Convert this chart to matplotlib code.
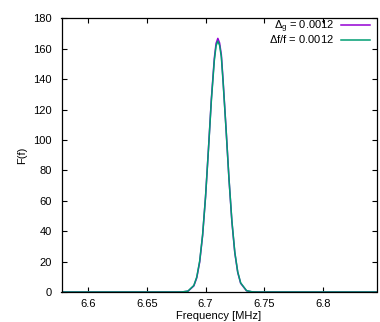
import matplotlib
matplotlib.use("Agg")
import matplotlib.pyplot as plt

plt.rcParams['font.family'] = ['Liberation Sans', 'DejaVu Sans']
plt.rcParams['mathtext.fontset'] = 'custom'
plt.rcParams['mathtext.rm'] = 'Liberation Sans'
plt.rcParams['mathtext.it'] = 'Liberation Sans'

# frequency samples (MHz)
freq = [6.577, 6.670, 6.675, 6.680, 6.685, 6.690, 6.6925, 6.695, 6.6975, 6.700,
        6.7025, 6.705, 6.7075, 6.709, 6.7105, 6.712, 6.7135, 6.715, 6.7175, 6.720,
        6.7225, 6.725, 6.7275, 6.730, 6.735, 6.740, 6.745, 6.750, 6.846]

# Delta_g = 0.0012
fg = [0.0, 0.0, 0.0, 0.04, 0.5, 4.0, 9.3, 19.7, 37.1, 62.5,
      94.2, 127.3, 153.7, 163.5, 166.8, 163.8, 156.0, 139.1, 107.7, 74.6,
      46.3, 25.7, 12.8, 5.7, 0.8, 0.07, 0.0, 0.0, 0.0]

# Delta f / f = 0.0012
ff = [0.0, 0.0, 0.0, 0.05, 0.6, 4.3, 9.8, 20.3, 37.6, 62.6,
      93.8, 126.3, 152.2, 161.9, 165.0, 162.2, 154.6, 138.0, 107.3, 74.8,
      46.8, 26.2, 13.2, 6.0, 0.9, 0.08, 0.0, 0.0, 0.0]

xticks = [6.6, 6.65, 6.7, 6.75, 6.8]
xlabels = ['6.6', '6.65', '6.7', '6.75', '6.8']
yticks = [0, 20, 40, 60, 80, 100, 120, 140, 160, 180]

fig = plt.figure(figsize=(3.8, 3.22), dpi=100)
ax = fig.add_axes([61.5 / 380, 30 / 322, (376.5 - 61.5) / 380, (292 - 18.3) / 322])

ax.plot(freq, fg, color='#9400d3', lw=1.1, label=r'$\Delta_g$ = 0.0012')
ax.plot(freq, ff, color='#009e73', lw=1.1, label=r'$\Delta$f/f = 0.0012')

ax.set_xlim(6.577, 6.846)
ax.set_ylim(0, 180)
ax.set_xticks(xticks)
ax.set_xticklabels(xlabels)
ax.set_yticks(yticks)
ax.tick_params(axis='both', direction='in', length=3.5, width=0.8, labelsize=8,
               top=True, right=True, colors='black')
ax.tick_params(axis='x', pad=5)
ax.tick_params(axis='y', pad=7)
for s in ax.spines.values():
    s.set_linewidth(0.9)

ax.set_xlabel('Frequency [MHz]', fontsize=8, labelpad=1.5)
ax.set_ylabel('F(f)', fontsize=8, labelpad=4)

leg = ax.legend(loc='upper right', frameon=False, fontsize=8, markerfirst=False,
                handlelength=2.6, handletextpad=0.6, labelspacing=-0.1,
                borderaxespad=0.2, bbox_to_anchor=(1.0, 1.025))
for t in leg.get_texts():
    t.set_ha('right')

fig.savefig('out.png', dpi=100)
